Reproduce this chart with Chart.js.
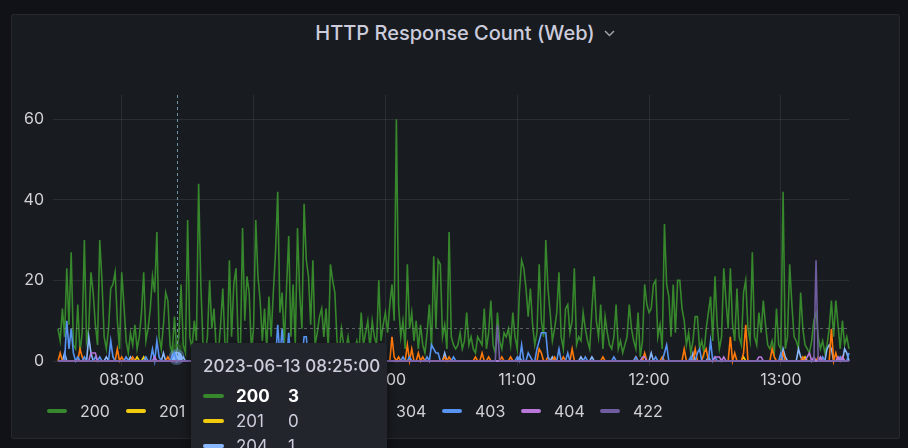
<!DOCTYPE html>
<html><head><meta charset="utf-8">
<script src="https://cdn.jsdelivr.net/npm/chart.js@4.4.1/dist/chart.umd.min.js"></script>
<style>
html,body{margin:0;padding:0;width:908px;height:448px;overflow:hidden;background:#111217;font-family:Inter,"Noto Sans",sans-serif;}
#panel{position:absolute;left:11px;top:14px;width:887px;height:423px;background:#181b1f;border:1px solid rgba(204,204,220,0.08);border-radius:3px;}
#title{position:absolute;left:0;width:910px;top:21px;text-align:center;line-height:24px;}
#title span{position:relative;font-size:20px;font-weight:500;color:#ccccdc;}
#title svg{position:absolute;left:100%;margin-left:9px;top:9px;}
canvas{position:absolute;left:0;top:0;}
#legend{position:absolute;left:47px;top:401px;display:flex;}
.item{width:79px;display:flex;align-items:center;height:20px;font-size:16px;color:#d0d1d8;}
.item .sw{width:20px;height:4px;border-radius:2px;margin-right:13px;flex:none;}
#tip{position:absolute;background:#22252b;border-radius:3px;width:196px;height:220px;box-shadow:0 4px 10px rgba(0,0,0,0.45);box-sizing:border-box;padding:12px 12px 0 12px;}
#tip .tt{font-size:17px;font-weight:500;color:#ccccdc;line-height:22px;white-space:nowrap;}
#tip .rows{margin-top:6px;}
#tip .row{display:flex;align-items:center;height:25px;font-size:17px;color:#ccccdc;}
#tip .row .sw{width:21px;height:4px;border-radius:2px;margin-right:12px;flex:none;}
#tip .row .lab{width:52px;}
#tip .row.hl{color:#ffffff;font-weight:700;}
</style></head>
<body>
<div id="panel"></div>
<div id="title"><span>HTTP Response Count (Web)<svg width="11" height="7" viewBox="0 0 11 7"><polyline points="1,1 5.5,5.5 10,1" fill="none" stroke="#9fa1ab" stroke-width="1.5"/></svg></span></div>
<canvas id="c" width="908" height="448"></canvas>
<div id="legend"></div>
<div id="tip"></div>
<script>
// ---- data ----
const START_MINUTE = 451;           // 07:31 as minutes of the day
const POINT_COUNT = 361;            // one point per minute up to 13:31
const DATE_TEXT = "2023-06-13";
const hourTicks = [480,540,600,660,720,780];
const hourLabels = ["08:00","09:00","10:00","11:00","12:00","13:00"];
const yTicks = [0,20,40,60];
const seriesNames = ["200","201","204","302","304","403","404","422"];
const seriesColors = ["#37872D","#F2CC0C","#8AB8FF","#FF780A","#F2495C","#5794F2","#B877D9","#705DA0"];
const HOVER_INDEX = 54;             // 08:25
const CURSOR_VALUE = 8.2;

const s200 = [
8,5,13,6,23,9,27,4,3,14,2,7,30,5,8,22,17,9,4,30,
20,6,3,8,18,19,22,10,3,22,14,5,2,7,4,9,3,6,12,22,
5,8,13,21,17,32,6,3,9,17,15,4,2,11,3,6,19,4,2,35,
6,3,10,5,44,19,4,2,6,20,8,13,3,2,9,18,4,3,25,6,
19,23,5,2,33,10,21,17,3,8,35,21,15,5,13,3,16,6,17,27,
42,12,17,4,18,31,6,19,4,33,17,8,39,25,21,9,25,4,7,11,
13,6,13,3,24,20,17,5,2,8,4,3,6,2,4,3,5,2,12,4,
7,10,3,10,6,4,20,5,9,12,7,14,19,10,60,14,6,10,3,24,
8,12,5,10,3,9,4,2,7,14,3,26,8,25,24,6,9,3,32,6,
4,3,4,7,3,5,12,4,6,3,2,6,5,4,13,3,7,15,4,2,
12,5,3,7,6,8,4,12,6,3,17,25,23,18,11,18,9,4,7,24,
10,6,30,18,12,5,8,12,22,6,3,13,14,7,10,23,4,6,5,12,
8,5,3,13,21,10,6,14,3,11,7,4,3,6,14,3,5,2,4,6,
14,8,5,3,12,1,5,19,14,12,13,19,20,6,9,3,34,19,16,6,
19,7,20,20,13,10,4,7,2,5,11,11,3,5,2,8,12,16,5,21,
9,3,6,23,15,8,23,9,5,18,6,4,17,20,8,5,27,6,4,12,
7,15,9,4,3,5,2,13,4,3,42,3,6,24,14,6,5,3,17,8,
4,3,2,5,10,12,6,3,5,2,4,8,15,6,15,9,3,10,4,6,
3];

const s201 = [
0,0,0,0,0,0,0,0,0,0,0,0,0,0,0,0,0,0,0,0,
0,0,0,0,0,0,0,0,0,0,0,0,0,0,0,0,1,0,0,1,
0,0,0,0,0,0,0,0,0,0,0,0,0,0,0,0,0,0,0,0,
0,0,0,0,0,0,0,0,0,0,0,0,0,0,0,0,0,0,0,0,
0,0,0,0,0,0,0,0,0,0,0,0,0,0,0,0,0,0,0,0,
0,0,0,0,0,0,0,0,0,0,0,0,0,0,0,0,0,0,0,0,
1,0,0,0,0,0,0,0,0,0,0,0,0,0,0,0,0,0,0,0,
0,0,0,0,0,0,0,0,0,0,0,0,0,0,0,0,0,0,0,0,
0,0,0,0,0,0,0,0,0,0,0,0,0,0,0,0,0,0,0,0,
0,0,0,0,0,0,0,0,0,0,0,0,0,0,0,0,0,0,0,0,
0,0,0,0,0,0,0,0,0,0,0,0,0,0,0,0,0,0,0,0,
0,0,0,0,0,0,0,0,0,0,0,0,0,0,0,0,0,0,0,0,
0,0,0,0,0,0,0,0,0,0,0,0,0,0,0,0,0,0,0,0,
0,0,0,0,0,0,0,0,0,0,0,0,0,0,0,0,0,0,0,0,
0,0,0,0,0,0,0,0,0,0,0,0,0,0,0,0,0,0,0,0,
0,0,0,0,0,0,0,0,0,0,0,0,1,0,0,0,0,0,0,0,
0,0,0,0,0,0,0,0,0,0,0,0,0,0,0,0,0,0,0,0,
1,0,0,0,0,0,0,0,0,0,0,0,0,0,0,0,0,0,0,0,
0];

const s204 = [
0,0,0,2,0,0,0,0,0,0,0,0,0,0,6,2,0,0,0,0,
0,0,1,0,0,0,0,0,0,0,0,0,0,1,0,0,0,0,0,0,
0,0,0,0,0,0,0,0,2,0,0,0,0,0,1,0,0,1,0,0,
0,0,0,0,0,0,0,0,0,0,0,0,0,0,0,0,0,0,0,0,
0,0,0,0,0,0,0,0,0,0,0,0,0,0,0,0,0,0,0,0,
0,0,0,0,0,0,0,0,0,0,0,0,0,0,0,0,0,0,0,0,
0,0,0,0,0,0,0,0,0,0,0,0,0,0,0,0,0,0,0,0,
0,0,0,0,0,0,0,0,0,0,0,0,0,0,0,0,0,0,0,0,
0,0,0,0,0,0,0,0,0,0,0,0,0,0,0,0,2,0,0,0,
0,0,0,0,0,0,0,0,0,0,0,0,0,0,0,0,0,0,0,0,
0,0,0,0,0,0,0,0,0,0,1,0,0,0,0,0,0,0,0,0,
0,0,0,0,0,1,0,0,0,0,0,0,0,0,0,0,0,0,1,0,
0,0,0,1,0,0,0,0,0,0,0,0,0,0,0,0,0,0,0,0,
0,0,0,0,0,0,0,0,0,0,2,0,0,0,0,0,0,0,0,0,
0,0,0,0,0,0,0,0,0,2,0,0,0,0,0,0,1,0,0,0,
0,0,0,0,0,0,0,0,0,0,0,0,0,0,0,0,0,0,0,0,
0,0,0,0,0,0,0,0,0,0,3,1,0,0,0,0,0,3,1,0,
0,0,0,0,0,0,0,0,0,0,3,4,3,0,0,0,0,0,3,2,
0];

const s302 = [
0,2,0,0,0,0,0,0,0,0,3,1,0,0,0,0,0,0,0,0,
0,0,0,0,0,0,0,3,0,1,0,0,0,0,1,0,0,0,0,0,
0,0,0,0,0,0,0,0,0,0,1,0,0,0,0,0,0,0,0,0,
0,0,0,0,0,0,0,0,0,0,0,0,0,0,0,0,0,0,0,0,
0,0,0,0,0,0,0,0,0,0,0,0,0,0,0,0,0,0,0,0,
0,0,0,0,0,0,0,0,0,0,0,0,0,0,0,0,0,0,0,0,
0,0,0,0,0,0,0,0,0,0,0,0,0,0,0,0,0,0,0,0,
0,0,0,0,0,0,0,0,0,0,0,0,6,1,0,1,0,0,0,4,
0,3,0,0,2,0,1,0,0,0,0,0,0,0,0,0,1,0,1,0,
0,0,0,0,0,0,0,0,0,0,1,0,0,2,0,0,1,0,0,0,
0,0,1,0,0,0,1,0,0,0,0,0,0,0,0,0,0,0,0,3,
2,0,0,1,0,0,1,0,0,0,1,0,0,0,3,0,0,0,0,0,
0,0,0,0,0,0,0,0,1,0,0,0,0,0,0,0,0,0,0,0,
0,0,0,1,0,0,0,2,0,0,0,0,0,0,0,1,0,0,0,0,
0,0,0,0,0,3,0,0,0,0,3,0,0,0,2,3,0,0,0,0,
0,0,0,0,0,0,6,0,2,0,0,0,2,9,0,0,0,0,0,0,
0,0,0,0,0,3,1,0,0,0,2,0,0,0,0,0,0,0,0,1,
0,0,0,0,0,0,1,0,0,0,0,0,8,0,2,0,0,1,0,0,
0];

const s304 = [
0,0,0,0,0,0,0,0,0,0,0,0,0,0,0,0,0,0,0,0,
0,0,0,0,0,0,0,0,0,0,0,0,0,0,0,0,0,0,0,0,
0,0,0,0,0,0,0,0,0,0,0,0,0,0,0,0,0,0,0,0,
0,0,0,0,0,0,0,0,0,0,0,0,0,0,0,0,0,0,0,0,
0,0,0,0,0,0,0,0,0,0,0,0,0,0,0,0,0,0,0,0,
0,0,0,0,0,0,0,0,0,0,0,0,0,0,0,0,0,0,0,0,
0,0,0,0,0,0,0,0,0,0,0,0,0,0,0,0,0,0,0,0,
0,0,0,0,0,0,0,0,0,0,0,0,0,0,0,0,0,0,0,0,
0,0,0,0,0,0,0,0,0,0,0,0,0,0,0,0,0,0,0,0,
0,0,0,0,0,0,0,0,0,0,0,0,0,0,0,0,0,0,0,0,
0,0,0,0,0,0,0,0,0,0,0,0,0,0,0,0,0,0,0,0,
0,0,0,0,0,0,0,0,0,0,0,0,0,0,0,0,0,0,0,0,
0,0,0,0,0,0,0,0,0,0,0,0,0,0,0,0,0,0,0,0,
0,0,0,0,0,0,0,0,0,0,0,0,0,0,0,0,0,0,0,0,
0,0,0,0,0,0,0,0,0,0,0,0,0,0,0,0,0,0,0,0,
0,0,0,0,0,0,0,0,0,0,0,0,0,0,0,0,0,0,0,0,
0,0,0,0,0,0,0,0,0,0,0,0,0,0,0,0,0,0,0,0,
0,0,0,0,0,0,0,0,0,0,0,0,0,0,0,0,0,0,0,0,
0];

const s403 = [
0,0,0,0,10,3,8,2,0,1,0,0,1,0,0,0,0,1,0,1,
0,0,0,0,5,1,0,0,0,0,0,1,0,0,0,0,0,0,0,0,
1,0,0,3,0,5,1,0,0,0,0,0,1,2,0,0,0,0,0,0,
0,0,0,0,0,0,0,0,0,0,0,0,0,0,0,0,0,0,0,0,
0,0,0,0,0,0,0,0,0,0,0,0,0,0,0,0,0,0,0,0,
9,1,8,1,0,7,0,0,0,0,0,0,6,6,0,0,0,0,0,0,
0,0,0,0,0,0,0,0,0,0,0,0,0,0,0,0,0,0,0,0,
0,0,0,0,0,0,0,0,0,0,0,0,0,0,0,0,0,1,0,0,
1,0,0,0,0,0,0,0,1,0,4,3,2,2,0,0,0,0,0,0,
1,0,0,0,0,0,0,0,0,0,0,0,0,0,0,0,0,0,0,0,
0,0,0,0,0,0,0,0,0,1,0,4,0,0,2,1,0,0,3,5,
7,7,7,1,0,0,0,0,3,0,0,0,2,0,0,0,0,0,0,0,
1,0,0,0,0,0,0,0,0,0,0,0,0,1,0,0,0,0,0,0,
0,0,0,1,0,0,0,0,0,0,0,0,1,0,0,0,2,4,0,0,
0,0,0,0,0,0,0,0,1,0,0,2,3,0,0,0,0,5,0,1,
0,0,0,0,0,0,0,0,0,0,0,0,0,0,0,0,0,0,0,0,
0,0,0,0,0,0,0,0,0,2,0,0,0,0,0,0,0,0,0,0,
0,0,0,0,0,0,0,0,1,0,0,0,0,0,0,0,1,0,0,0,
2];

const s404 = [
0,0,0,0,0,0,0,0,0,0,0,0,0,0,0,2,2,2,0,0,
0,0,0,0,0,0,0,0,0,0,0,0,0,0,0,0,0,0,0,0,
0,0,0,0,1,0,0,0,0,0,0,0,0,0,0,0,0,0,0,0,
0,0,0,0,0,0,0,0,0,0,0,0,0,0,0,0,0,0,0,0,
0,0,0,0,0,0,0,0,0,0,0,0,0,0,0,0,0,0,0,0,
0,0,0,0,0,0,0,0,0,0,0,0,0,0,0,0,0,0,0,0,
0,0,0,0,0,0,0,0,0,0,0,0,0,0,0,0,0,0,0,0,
0,0,0,0,0,0,0,0,0,0,0,0,0,0,0,0,0,0,0,0,
0,0,0,0,0,0,0,0,0,0,0,0,0,0,0,0,0,0,0,0,
0,0,0,0,0,0,0,0,0,0,0,0,0,0,0,0,0,0,0,0,
0,0,0,0,0,0,0,0,0,0,0,0,0,0,0,0,0,0,0,0,
0,0,0,0,0,0,0,0,0,0,0,0,0,0,0,0,0,0,0,0,
0,0,0,0,0,0,0,0,0,0,0,0,0,0,0,0,0,0,0,0,
0,0,0,0,0,0,1,1,0,0,0,0,0,0,0,0,0,0,0,0,
0,0,0,0,0,0,0,0,0,0,0,0,0,0,0,0,0,0,0,1,
1,1,0,1,0,0,0,0,0,0,0,0,0,0,0,0,0,0,0,1,
1,0,0,0,0,0,0,0,0,0,0,0,0,0,0,0,0,0,0,0,
0,1,2,0,1,0,0,1,0,0,0,0,0,0,0,1,0,1,0,0,
0];

const s422 = [
0,0,0,0,0,0,0,0,0,0,0,0,0,0,0,0,0,0,0,0,
0,0,0,0,0,0,0,0,0,0,0,0,0,0,0,0,0,0,0,0,
0,0,0,0,0,0,0,0,0,0,0,0,0,0,0,0,0,0,0,0,
0,0,0,0,0,0,0,0,0,0,0,0,0,0,0,0,0,0,0,0,
0,0,0,0,0,0,0,0,0,0,0,0,0,0,0,0,0,0,0,0,
0,0,0,0,0,0,0,0,0,0,0,0,0,0,0,0,0,0,0,0,
0,0,0,0,0,0,0,0,0,0,0,0,0,0,0,0,0,0,0,0,
0,0,0,0,0,0,0,0,0,0,0,0,0,0,0,0,0,0,0,0,
0,0,0,0,0,0,0,0,0,0,0,0,0,0,0,0,0,0,0,0,
0,0,0,0,0,0,0,0,0,0,0,0,0,0,0,0,0,0,0,0,
9,0,0,0,0,0,0,0,0,0,0,0,0,0,0,0,0,0,0,0,
0,0,0,0,0,0,0,0,0,0,0,0,0,0,0,0,0,0,0,0,
0,0,0,0,0,0,0,0,0,0,0,0,0,0,0,0,0,0,0,0,
0,0,0,0,0,0,0,0,0,0,0,0,0,0,0,0,0,0,0,0,
0,0,0,0,0,0,0,0,0,0,0,0,0,0,0,0,0,0,0,0,
0,0,0,0,0,0,0,0,0,0,0,0,0,0,0,0,0,0,0,0,
0,0,0,0,0,0,0,0,0,0,0,0,0,0,0,0,0,0,0,0,
0,0,0,0,0,25,0,0,0,0,0,0,0,0,0,0,0,0,0,0,
0];

const seriesValues = [s200,s201,s204,s302,s304,s403,s404,s422];

// ---- build ----
const minutes = [];
for (let i = 0; i < POINT_COUNT; i++) minutes.push(START_MINUTE + i);

const GRID = 'rgba(204,204,220,0.10)';
const TEXT = '#d0d1d8';
function hexA(hex, a){const n=parseInt(hex.slice(1),16);return `rgba(${n>>16},${(n>>8)&255},${n&255},${a})`;}

const hoverStyle = {
  0: {r: 5, bg: hexA(seriesColors[0], 0.4), bc: hexA(seriesColors[0], 0.2), bw: 6},
  2: {r: 5.5, bg: seriesColors[2], bc: hexA(seriesColors[2], 0.35), bw: 5}
};
const datasets = seriesNames.map((name,k)=>{
  const h = hoverStyle[k];
  return {
    label: name,
    data: seriesValues[k].map((v,i)=>({x: minutes[i], y: v})),
    borderColor: seriesColors[k],
    backgroundColor: seriesColors[k],
    borderWidth: 1.6,
    tension: 0,
    fill: false,
    clip: 8,
    pointRadius: h ? (c => c.dataIndex === HOVER_INDEX ? h.r : 0) : 0,
    pointBackgroundColor: h ? h.bg : seriesColors[k],
    pointBorderColor: h ? h.bc : seriesColors[k],
    pointBorderWidth: h ? h.bw : 0,
    pointHoverRadius: 0,
    order: seriesNames.length - k
  };
});

const cursorPlugin = {
  id: 'cursor',
  afterDatasetsDraw(chart){
    const {ctx, chartArea:a, scales:{x, y}} = chart;
    const px = Math.round(x.getPixelForValue(minutes[HOVER_INDEX])) + 0.5;
    const py = Math.round(y.getPixelForValue(CURSOR_VALUE)) + 0.5;
    ctx.save();
    ctx.lineWidth = 1;
    ctx.setLineDash([3,3]);
    ctx.strokeStyle = 'rgba(140,142,152,0.6)';
    ctx.beginPath(); ctx.moveTo(a.left, py); ctx.lineTo(a.right, py); ctx.stroke();
    ctx.strokeStyle = '#6b8fa3';
    ctx.beginPath(); ctx.moveTo(px, a.top); ctx.lineTo(px, a.bottom); ctx.stroke();
    ctx.restore();
  }
};

const chart = new Chart(document.getElementById('c'), {
  type: 'line',
  data: { datasets },
  plugins: [cursorPlugin],
  options: {
    responsive: false,
    animation: false,
    events: [],
    layout: { padding: { left: 0, right: 59, top: 95, bottom: 57 } },
    plugins: { legend: { display: false }, tooltip: { enabled: false } },
    scales: {
      x: {
        type: 'linear',
        min: START_MINUTE,
        max: START_MINUTE + POINT_COUNT - 1,
        afterBuildTicks: s => { s.ticks = hourTicks.map(v => ({value: v})); },
        afterFit: s => { s.height = 30; },
        ticks: { callback: (v, i) => hourLabels[i], color: TEXT, font: {family: 'Inter', size: 16}, padding: 5, maxRotation: 0, autoSkip: false },
        grid: { color: GRID, tickLength: 5 },
        border: { display: false }
      },
      y: {
        min: 0, max: 66,
        afterBuildTicks: s => { s.ticks = yTicks.map(v => ({value: v})); },
        afterFit: s => { s.width = 58; },
        ticks: { callback: v => String(v), color: TEXT, font: {family: 'Inter', size: 16}, padding: 9 },
        grid: { color: GRID, tickLength: 5 },
        border: { display: false }
      }
    }
  }
});

// legend
const legend = document.getElementById('legend');
seriesNames.forEach((n,k)=>{
  const it = document.createElement('div'); it.className = 'item';
  it.innerHTML = `<span class="sw" style="background:${seriesColors[k]}"></span><span>${n}</span>`;
  legend.appendChild(it);
});

// tooltip
const tip = document.getElementById('tip');
const tm = minutes[HOVER_INDEX];
const hh = String(Math.floor(tm/60)).padStart(2,'0'), mm = String(tm%60).padStart(2,'0');
let html = `<div class="tt">${DATE_TEXT} ${hh}:${mm}:00</div><div class="rows">`;
seriesNames.forEach((n,k)=>{
  html += `<div class="row${k===0?' hl':''}"><span class="sw" style="background:${seriesColors[k]}"></span><span class="lab">${n}</span><span>${seriesValues[k][HOVER_INDEX]}</span></div>`;
});
tip.innerHTML = html + '</div>';
const tpx = chart.scales.x.getPixelForValue(tm);
const tpy = chart.scales.y.getPixelForValue(CURSOR_VALUE);
tip.style.left = Math.round(tpx + 14) + 'px';
tip.style.top = Math.round(tpy + 15) + 'px';
</script>
</body></html>
